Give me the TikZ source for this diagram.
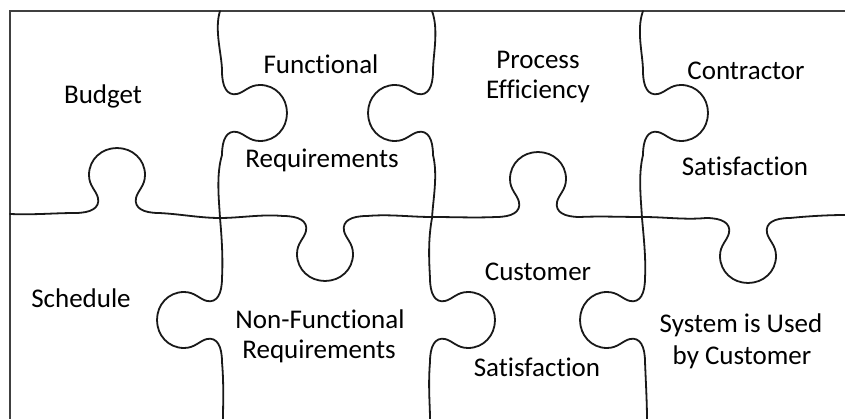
\documentclass[tikz,border=0pt]{standalone}
\usepackage{fontspec}
\setmainfont{Carlito}[Ligatures={NoCommon}]
\begin{document}
\begin{tikzpicture}[x=1pt,y=-1pt,
  seam/.style={line width=1.8pt, line cap=round, line join=round, black!90},
  frame/.style={line width=1.2pt, black!75},
  lbl/.style={anchor=base, inner sep=0pt, font=\fontsize{27}{32}\selectfont},
  jtab/.pic={\draw[seam] (-42,0) .. controls (-26,0) and (-17,-5) .. (-19,-15)
      .. controls (-21,-23) and (-28,-27) .. (-28,-38)
      .. controls (-28,-54) and (-15,-65) .. (0,-65)
      .. controls (15,-65) and (28,-54) .. (28,-38)
      .. controls (28,-27) and (21,-23) .. (19,-15)
      .. controls (17,-5) and (26,0) .. (42,0);}]
\useasboundingbox (0,0) rectangle (845,419);
% frame
\draw[frame] (845,11) -- (10,11) -- (10,419);
% horizontal seam
\draw[seam] (10,214) .. controls (35,215) and (55,213) .. (75,213);
\pic at (117,213) {jtab};
\draw[seam] (159,213) .. controls (180,214) and (200,218) .. (220,218)
  .. controls (240,218) and (262,214) .. (283,216);
\pic[yscale=-1] at (325,216) {jtab};
\draw[seam] (367,216) .. controls (390,214) and (410,217) .. (432,217)
  .. controls (455,217) and (475,218) .. (496,217);
\pic at (538,217) {jtab};
\draw[seam] (580,217) .. controls (600,216) and (620,217) .. (643,217)
  .. controls (665,217) and (685,220) .. (706,218);
\pic[yscale=-1] at (748,218) {jtab};
\draw[seam] (790,218) .. controls (810,216) and (830,215) .. (845,215);
% vertical seam 1
\draw[seam] (220,11) .. controls (214,30) and (222,55) .. (222,71);
\pic[rotate=-90] at (222,113) {jtab};
\draw[seam] (222,155) .. controls (216,175) and (219,200) .. (220,218)
  .. controls (222,240) and (223,260) .. (222,278);
\pic[rotate=90] at (222,320) {jtab};
\draw[seam] (222,362) .. controls (224,385) and (223,405) .. (223,419);
% vertical seam 2
\draw[seam] (432,11) .. controls (439,30) and (433,55) .. (433,71);
\pic[rotate=90] at (433,113) {jtab};
\draw[seam] (433,155) .. controls (438,175) and (433,200) .. (432,218)
  .. controls (428,240) and (429,260) .. (430,278);
\pic[rotate=-90] at (430,320) {jtab};
\draw[seam] (430,362) .. controls (428,385) and (430,405) .. (430,419);
% vertical seam 3
\draw[seam] (643,11) .. controls (636,30) and (643,55) .. (643,71);
\pic[rotate=-90] at (643,113) {jtab};
\draw[seam] (643,155) .. controls (638,175) and (641,200) .. (642,218)
  .. controls (644,240) and (646,260) .. (645,278);
\pic[rotate=90] at (645,320) {jtab};
\draw[seam] (645,362) .. controls (646,385) and (647,405) .. (647,419);
% labels
\node[lbl] (budget) at (103,104) {Budget};
\node[lbl] (func1) at (321,74) {Functional};
\node[lbl] (func2) at (322,168) {Requirements};
\node[lbl] (proc1) at (538,69) {Process};
\node[lbl] (proc2) at (538,99) {Efficiency};
\node[lbl] (cont1) at (746,80) {Contractor};
\node[lbl] (cont2) at (745,176) {Satisfaction};
\node[lbl] (sched) at (81,308) {Schedule};
\node[lbl] (nonf1) at (320,328) {Non-Functional};
\node[lbl] (nonf2) at (319,358) {Requirements};
\node[lbl] (cust1) at (538,280) {Customer};
\node[lbl] (cust2) at (537,376) {Satisfaction};
\node[lbl] (used1) at (741,332) {System is Used};
\node[lbl] (used2) at (742,364) {by Customer};
\end{tikzpicture}
\end{document}
